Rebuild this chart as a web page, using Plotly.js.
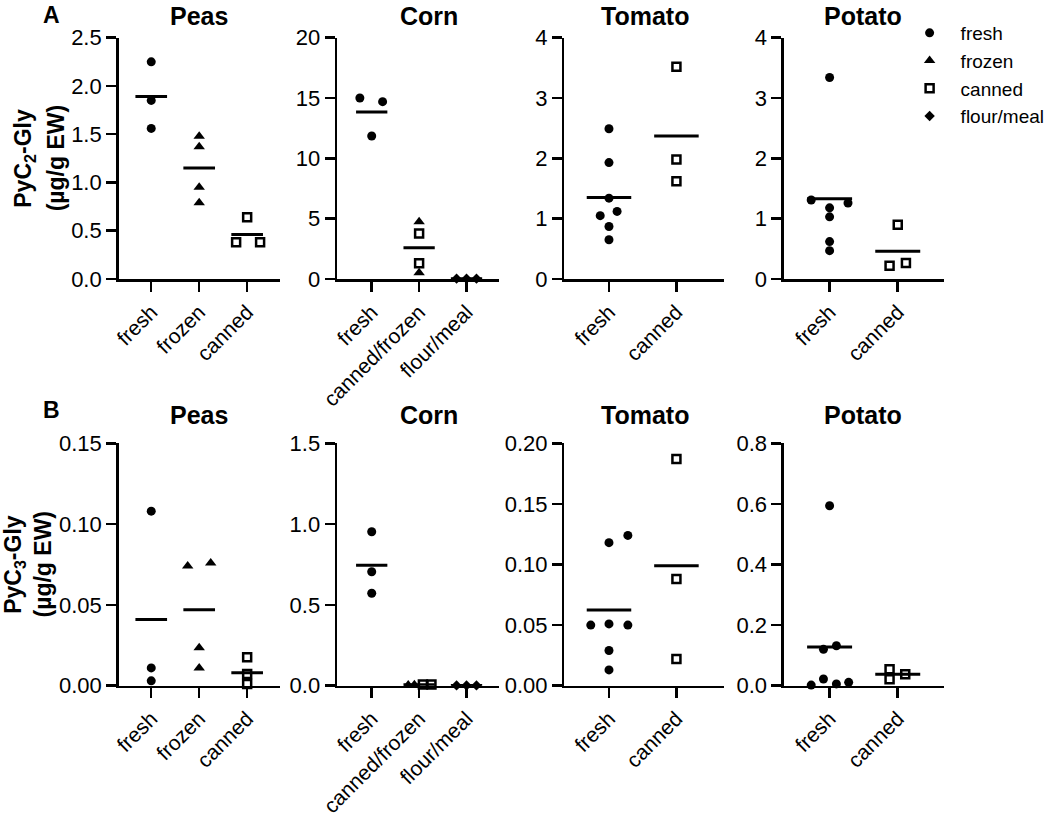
<!DOCTYPE html>
<html>
<head>
<meta charset="utf-8">
<script src="https://cdn.plot.ly/plotly-3.0.1.min.js"></script>
<style>html,body{margin:0;padding:0;background:#fff}#chart{width:1050px;height:817px}</style>
</head>
<body>
<div id="chart"></div>
<script>
// ---------- categories ----------
const peasCats   = ['fresh', 'frozen', 'canned'];
const cornCats   = ['fresh', 'canned/frozen', 'flour/meal'];
const tomatoCats = ['fresh', 'canned'];
const potatoCats = ['fresh', 'canned'];
const cropNames  = ['Peas', 'Corn', 'Tomato', 'Potato'];

// ---------- Panel A: PyC2-Gly (µg/g EW) ----------
const A_peas_fresh   = [2.25, 1.85, 1.56];
const A_peas_frozen  = [1.48, 1.37, 0.95, 0.79];
const A_peas_canned  = [0.64, 0.38, 0.38];
const A_peas_means   = [1.89, 1.15, 0.46];

const A_corn_fresh    = [15.0, 14.7, 11.85];
const A_corn_cf_frozen = [4.74, 0.52];
const A_corn_cf_canned = [3.78, 1.30];
const A_corn_flour    = [0.03, 0.03, 0.03];
const A_corn_means    = [13.85, 2.59, 0.03];

const A_tomato_fresh  = [2.49, 1.93, 1.34, 1.05, 1.12, 0.87, 0.65];
const A_tomato_canned = [3.52, 1.98, 1.62];
const A_tomato_means  = [1.35, 2.37];

const A_potato_fresh  = [3.34, 1.31, 1.26, 1.18, 1.03, 0.62, 0.47];
const A_potato_canned = [0.90, 0.22, 0.265];
const A_potato_means  = [1.33, 0.46];

// ---------- Panel B: PyC3-Gly (µg/g EW) ----------
const B_peas_fresh   = [0.108, 0.011, 0.003];
const B_peas_frozen  = [0.074, 0.076, 0.0235, 0.011];
const B_peas_canned  = [0.0176, 0.0072, 0.001];
const B_peas_means   = [0.041, 0.047, 0.008];

const B_corn_fresh    = [0.953, 0.705, 0.572];
const B_corn_cf_frozen = [0.004, 0.006];
const B_corn_cf_canned = [0.008, 0.008];
const B_corn_flour    = [0.002, 0.002, 0.002];
const B_corn_means    = [0.745, 0.006, 0.002];

const B_tomato_fresh  = [0.118, 0.124, 0.050, 0.051, 0.050, 0.029, 0.013];
const B_tomato_canned = [0.187, 0.088, 0.022];
const B_tomato_means  = [0.0625, 0.099];

const B_potato_fresh  = [0.594, 0.120, 0.132, 0.002, 0.022, 0.006, 0.011];
const B_potato_canned = [0.054, 0.021, 0.038];
const B_potato_means  = [0.128, 0.038];

// ---------- horizontal spreading of overlapping points (category units) ----------
const spread = {
  A_peas_canned: [0, -0.23, 0.27],
  A_corn_fresh: [-0.25, 0.23, 0],
  A_corn_flour: [-0.21, 0, 0.21],
  A_tomato_fresh: [0, 0, 0, -0.13, 0.12, 0, 0],
  A_potato_fresh: [0, -0.27, 0.27, 0, 0, 0, 0],
  A_potato_canned: [0, -0.12, 0.12],
  B_peas_frozen: [-0.24, 0.24, 0, 0],
  B_corn_cf_frozen: [-0.23, -0.1],
  B_corn_cf_canned: [0.08, 0.26],
  B_corn_flour: [-0.21, 0, 0.21],
  B_tomato_fresh: [0, 0.28, -0.27, 0, 0.28, 0, 0],
  B_potato_fresh: [0, -0.09, 0.1, -0.27, -0.09, 0.1, 0.28],
  B_potato_canned: [-0.12, -0.12, 0.11]
};

// ---------- panel definitions ----------
const panels = [
  {row: 0, col: 0, cats: peasCats, means: A_peas_means, yr: [0, 2.5], dtick: 0.5, fmt: '.1f', xr: [-0.68, 2.68],
   groups: [[0, 'fresh', A_peas_fresh, null], [1, 'frozen', A_peas_frozen, null], [2, 'canned', A_peas_canned, spread.A_peas_canned]]},
  {row: 0, col: 1, cats: cornCats, means: A_corn_means, yr: [0, 20], dtick: 5, fmt: 'd', xr: [-0.73, 2.69],
   groups: [[0, 'fresh', A_corn_fresh, spread.A_corn_fresh], [1, 'frozen', A_corn_cf_frozen, null], [1, 'canned', A_corn_cf_canned, null], [2, 'flour/meal', A_corn_flour, spread.A_corn_flour]]},
  {row: 0, col: 2, cats: tomatoCats, means: A_tomato_means, yr: [0, 4], dtick: 1, fmt: 'd', xr: [-0.66, 1.7],
   groups: [[0, 'fresh', A_tomato_fresh, spread.A_tomato_fresh], [1, 'canned', A_tomato_canned, null]]},
  {row: 0, col: 3, cats: potatoCats, means: A_potato_means, yr: [0, 4], dtick: 1, fmt: 'd', xr: [-0.67, 1.68],
   groups: [[0, 'fresh', A_potato_fresh, spread.A_potato_fresh], [1, 'canned', A_potato_canned, spread.A_potato_canned]]},
  {row: 1, col: 0, cats: peasCats, means: B_peas_means, yr: [0, 0.15], dtick: 0.05, fmt: '.2f', xr: [-0.68, 2.68],
   groups: [[0, 'fresh', B_peas_fresh, null], [1, 'frozen', B_peas_frozen, spread.B_peas_frozen], [2, 'canned', B_peas_canned, null]]},
  {row: 1, col: 1, cats: cornCats, means: B_corn_means, yr: [0, 1.5], dtick: 0.5, fmt: '.1f', xr: [-0.73, 2.69],
   groups: [[0, 'fresh', B_corn_fresh, null], [1, 'frozen', B_corn_cf_frozen, spread.B_corn_cf_frozen], [1, 'canned', B_corn_cf_canned, spread.B_corn_cf_canned], [2, 'flour/meal', B_corn_flour, spread.B_corn_flour]]},
  {row: 1, col: 2, cats: tomatoCats, means: B_tomato_means, yr: [0, 0.2], dtick: 0.05, fmt: '.2f', xr: [-0.66, 1.7],
   groups: [[0, 'fresh', B_tomato_fresh, spread.B_tomato_fresh], [1, 'canned', B_tomato_canned, null]]},
  {row: 1, col: 3, cats: potatoCats, means: B_potato_means, yr: [0, 0.8], dtick: 0.2, fmt: '.1f', xr: [-0.67, 1.68],
   groups: [[0, 'fresh', B_potato_fresh, spread.B_potato_fresh], [1, 'canned', B_potato_canned, spread.B_potato_canned]]}
];

// ---------- styling ----------
const W = 1050, H = 817;
const FONT = 'Liberation Sans, Arial, sans-serif';
const colPx = [[120, 283], [341, 505], [571, 732], [793, 955]];
const rowPx = [[37.7, 279], [443.3, 685.7]];
const formStyle = {
  'fresh':      {symbol: 'circle', size: 9, line: {width: 0}},
  'frozen':     {symbol: 'triangle-up', size: 10, line: {width: 0}},
  'canned':     {symbol: 'square-open', size: 8, line: {width: 2.5, color: 'black'}},
  'flour/meal': {symbol: 'diamond', size: 8, line: {width: 0}}
};
const legendOrder = ['fresh', 'frozen', 'canned', 'flour/meal'];
const MEAN_HALF = 0.33;

const traces = [];
const layout = {
  width: W, height: H,
  margin: {l: 0, r: 0, t: 0, b: 0},
  paper_bgcolor: 'white', plot_bgcolor: 'white',
  font: {family: FONT, color: 'black'},
  showlegend: true,
  legend: {x: 909 / W, y: 1 - 14 / H, xanchor: 'left', yanchor: 'top',
           font: {size: 19, family: FONT}, itemwidth: 52, tracegroupgap: 0,
           bgcolor: 'rgba(0,0,0,0)', traceorder: 'grouped'},
  annotations: []
};
const shown = {};

panels.forEach((p, i) => {
  const n = i + 1;
  const xa = n === 1 ? 'x' : 'x' + n, ya = n === 1 ? 'y' : 'y' + n;
  const xKey = n === 1 ? 'xaxis' : 'xaxis' + n, yKey = n === 1 ? 'yaxis' : 'yaxis' + n;
  const cp = colPx[p.col], rp = rowPx[p.row];
  layout[xKey] = {
    domain: [cp[0] / W, cp[1] / W], range: p.xr, anchor: ya,
    showline: true, linewidth: 2.5, linecolor: 'black', mirror: false,
    showgrid: false, zeroline: false,
    tickmode: 'array', tickvals: p.cats.map((c, k) => k), ticktext: p.cats,
    ticks: 'outside', ticklen: 10, tickwidth: 2.5, tickcolor: 'black',
    tickangle: -45, tickfont: {size: 21, family: FONT, color: 'black'}
  };
  layout[yKey] = {
    domain: [1 - rp[1] / H, 1 - rp[0] / H], range: p.yr, anchor: xa,
    showline: true, linewidth: 2.5, linecolor: 'black',
    showgrid: false, zeroline: false,
    tickmode: 'linear', tick0: 0, dtick: p.dtick, tickformat: p.fmt,
    ticks: 'outside', ticklen: 10, tickwidth: 2.5, tickcolor: 'black',
    tickfont: {size: 22, family: FONT, color: 'black'}
  };
  // mean lines
  p.means.forEach((m, k) => {
    traces.push({type: 'scatter', mode: 'lines', x: [k - MEAN_HALF, k + MEAN_HALF], y: [m, m],
      xaxis: xa, yaxis: ya, line: {color: 'black', width: 3}, showlegend: false,
      cliponaxis: false, hoverinfo: 'skip'});
  });
  // points
  p.groups.forEach(([cat, form, vals, dx]) => {
    const st = formStyle[form];
    const show = !shown[form];
    shown[form] = true;
    traces.push({type: 'scatter', mode: 'markers', name: form, legendgroup: form,
      legendrank: legendOrder.indexOf(form) + 1,
      showlegend: show,
      x: vals.map((v, j) => cat + (dx ? dx[j] : 0)), y: vals,
      xaxis: xa, yaxis: ya, cliponaxis: false,
      marker: {symbol: st.symbol, size: st.size, color: 'black', line: st.line}});
  });
});

// subplot titles
const titleX = [201.5, 434, 652, 873];
const titleY = [16, 415];
[0, 1].forEach(r => {
  cropNames.forEach((c, k) => {
    layout.annotations.push({xref: 'paper', yref: 'paper', x: titleX[k] / W, y: 1 - titleY[r] / H,
      xanchor: 'center', yanchor: 'middle', showarrow: false, text: '<b>' + c + '</b>',
      font: {size: 25, family: FONT, color: 'black'}});
  });
});
// panel letters
layout.annotations.push({xref: 'paper', yref: 'paper', x: 52 / W, y: 1,
  xanchor: 'center', yanchor: 'top', showarrow: false, text: '<b>A</b>',
  font: {size: 23, family: FONT, color: 'black'}});
layout.annotations.push({xref: 'paper', yref: 'paper', x: 52 / W, y: 1 - 410 / H,
  xanchor: 'center', yanchor: 'middle', showarrow: false, text: '<b>B</b>',
  font: {size: 23, family: FONT, color: 'black'}});
// y axis titles (two lines each)
[['PyC<sub>2</sub>-Gly', 158, 24, 57], ['PyC<sub>3</sub>-Gly', 564, 14, 44]].forEach(([t, yc, x1, x2]) => {
  layout.annotations.push({xref: 'paper', yref: 'paper', x: x1 / W, y: 1 - yc / H,
    xanchor: 'center', yanchor: 'middle', showarrow: false, textangle: -90, text: '<b>' + t + '</b>',
    font: {size: 23, family: FONT, color: 'black'}});
  layout.annotations.push({xref: 'paper', yref: 'paper', x: x2 / W, y: 1 - yc / H,
    xanchor: 'center', yanchor: 'middle', showarrow: false, textangle: -90, text: '<b>(µg/g EW)</b>',
    font: {size: 23, family: FONT, color: 'black'}});
});

Plotly.newPlot('chart', traces, layout, {displayModeBar: false, staticPlot: true});
</script>
</body>
</html>
